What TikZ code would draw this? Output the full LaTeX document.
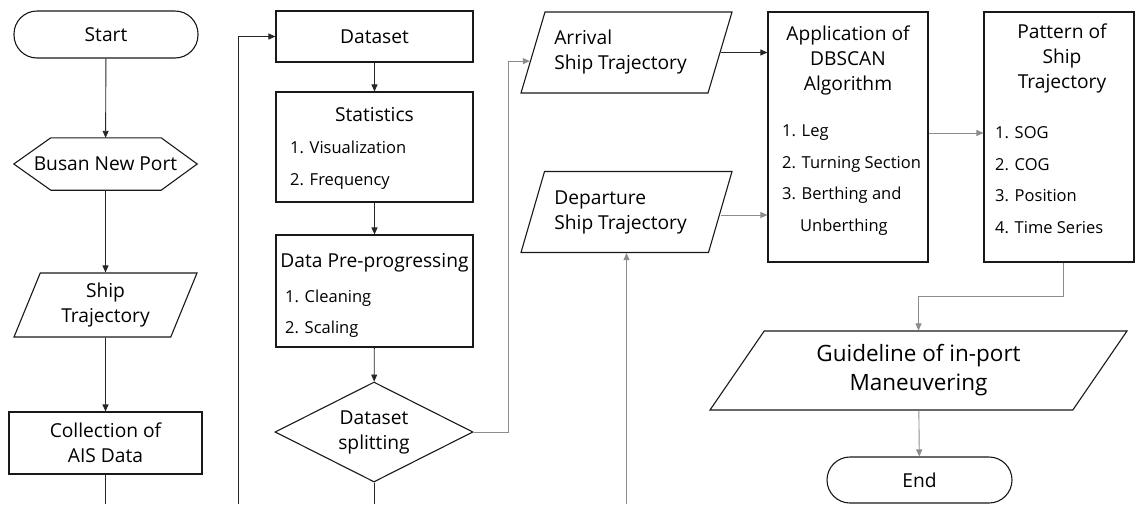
\documentclass[tikz,border=0pt]{standalone}
\usepackage{fontspec}
\setmainfont{Open Sans}
\usetikzlibrary{arrows.meta,shapes.geometric,calc}
\newcommand\ttlfont{\fontsize{19.2}{25}\selectfont}
\newcommand\itmfont{\fontsize{16.5}{31.5}\selectfont}
\newcommand\guidefont{\fontsize{22.5}{29}\selectfont}
\begin{document}
\begin{tikzpicture}[x=1pt,y=-1pt,
  shp/.style={draw=black!90, line width=1.1pt, inner sep=0pt, font=\ttlfont, align=center},
  term/.style={shp, rectangle, rounded corners=23pt},
  rbox/.style={shp, rectangle},
  para/.style={shp, trapezium, trapezium stretches body},
  txt/.style={inner sep=0pt, font=\ttlfont, align=center},
  items/.style={inner sep=0pt, font=\itmfont, align=left, anchor=west},
  dline/.style={draw=black!85, line width=0.9pt},
  gline/.style={draw=black!45, line width=0.9pt},
  tip/.style={-{Triangle[length=7pt,width=6pt]}},
  darr/.style={dline, tip},
  garr/.style={gline, tip}
]
\useasboundingbox (0,0) rectangle (1135,504);
\clip (0,0) rectangle (1135,504);

% column 1
\node[term, minimum width=184pt, minimum height=47pt] (start) at (106,34.5) {Start};
\node[txt, minimum width=183pt, minimum height=52pt] (busan) at (105.5,164) {Busan New Port};
\draw[shp] ([xshift=37pt]busan.north west) -- ([xshift=-36pt]busan.north east) -- (busan.east)
  -- ([xshift=-36pt]busan.south east) -- ([xshift=37pt]busan.south west) -- (busan.west) -- cycle;
\node[para, trapezium left angle=59.3, trapezium right angle=120.7,
  minimum width=183pt, minimum height=64pt] (ship) at (105.5,305) {Ship\\Trajectory};
\node[rbox, minimum width=193pt, minimum height=62pt] (collect) at (105.5,443) {Collection of\\AIS Data};

% column 2
\node[rbox, minimum width=197pt, minimum height=51pt] (dataset) at (374.5,36.5) {Dataset};
\node[rbox, minimum width=197pt, minimum height=110pt] (stats) at (374.5,147) {};
\node[txt] (statsT) at (374.5,115) {Statistics};
\node[items] (statsI) at (290,165) {1. Visualization\\2. Frequency};
\node[rbox, minimum width=197pt, minimum height=112pt] (pre) at (374.5,291) {};
\node[txt] (preT) at (374.5,263) {Data Pre-progressing};
\node[items] (preI) at (285,313.5) {1. Cleaning\\2. Scaling};
\node[shp, diamond, aspect=2, minimum width=198pt, minimum height=100pt] (split) at (374,432) {Dataset\\splitting};

% column 3
\node[para, align=left, trapezium left angle=61.5, trapezium right angle=118.5,
  minimum width=211pt, minimum height=81pt] (arrival) at (626.5,52.5) {Arrival\\Ship Trajectory\hspace*{12pt}};
\node[para, align=left, trapezium left angle=61.5, trapezium right angle=118.5,
  minimum width=211pt, minimum height=81pt] (departure) at (626.5,212) {Departure\\Ship Trajectory\hspace*{12pt}};

% column 4
\node[rbox, minimum width=160pt, minimum height=250pt] (dbscan) at (848,137) {};
\node[txt] (dbscanT) at (848,60) {Application of\\DBSCAN\\Algorithm};
\node[items] (dbscanI) at (782,180) {1. Leg\\2. Turning Section\\3. Berthing and\\\hspace*{18pt}Unberthing};

\node[rbox, minimum width=150pt, minimum height=250pt] (pattern) at (1059,137) {};
\node[txt] (patternT) at (1062,58) {Pattern of\\Ship\\Trajectory};
\node[items] (patternI) at (995,180) {1. SOG\\2. COG\\3. Position\\4. Time Series};

\node[para, font=\guidefont, trapezium left angle=43.6, trapezium right angle=136.4,
  minimum width=417pt, minimum height=79pt] (guide) at (918.5,370.5) {Guideline of in-port\\Maneuvering};
\node[term, minimum width=185pt, minimum height=46pt] (end) at (919.5,480) {End};

% free ends at the lower border
\coordinate (b1) at (105.5,504);
\coordinate (b2) at (238,504);
\coordinate (b3) at (374,504);
\coordinate (b4) at (626.5,504);
\coordinate (arrin) at ($(arrival.bottom left corner)!0.395!(arrival.top left corner)$);

% connectors
\draw[darr] (start) -- (busan);
\draw[darr] (busan) -- (ship);
\draw[darr] (ship) -- (collect);
\draw[dline] (collect) -- (b1);
\draw[darr] (b2) |- (dataset.west);
\draw[darr] (dataset) -- (stats);
\draw[darr] (stats) -- (pre);
\draw[darr] (pre) -- (split);
\draw[dline] (split) -- (b3);
\draw[garr] (split.east) -- ++(35,0) |- (arrin);
\draw[darr] (arrival.east) -- (arrival.east -| dbscan.west);
\draw[garr] ([yshift=-3pt]departure.east) -- ([yshift=-3pt]departure.east -| dbscan.west);
\draw[garr] (b4) -- (departure.south);
\draw[garr] ([yshift=4pt]dbscan.east) -- ([yshift=4pt]pattern.west);
\draw[garr] ([xshift=4pt]pattern.south) -- ++(0,34) -| (guide.north);
\draw[garr] (guide) -- (end);
\end{tikzpicture}
\end{document}
